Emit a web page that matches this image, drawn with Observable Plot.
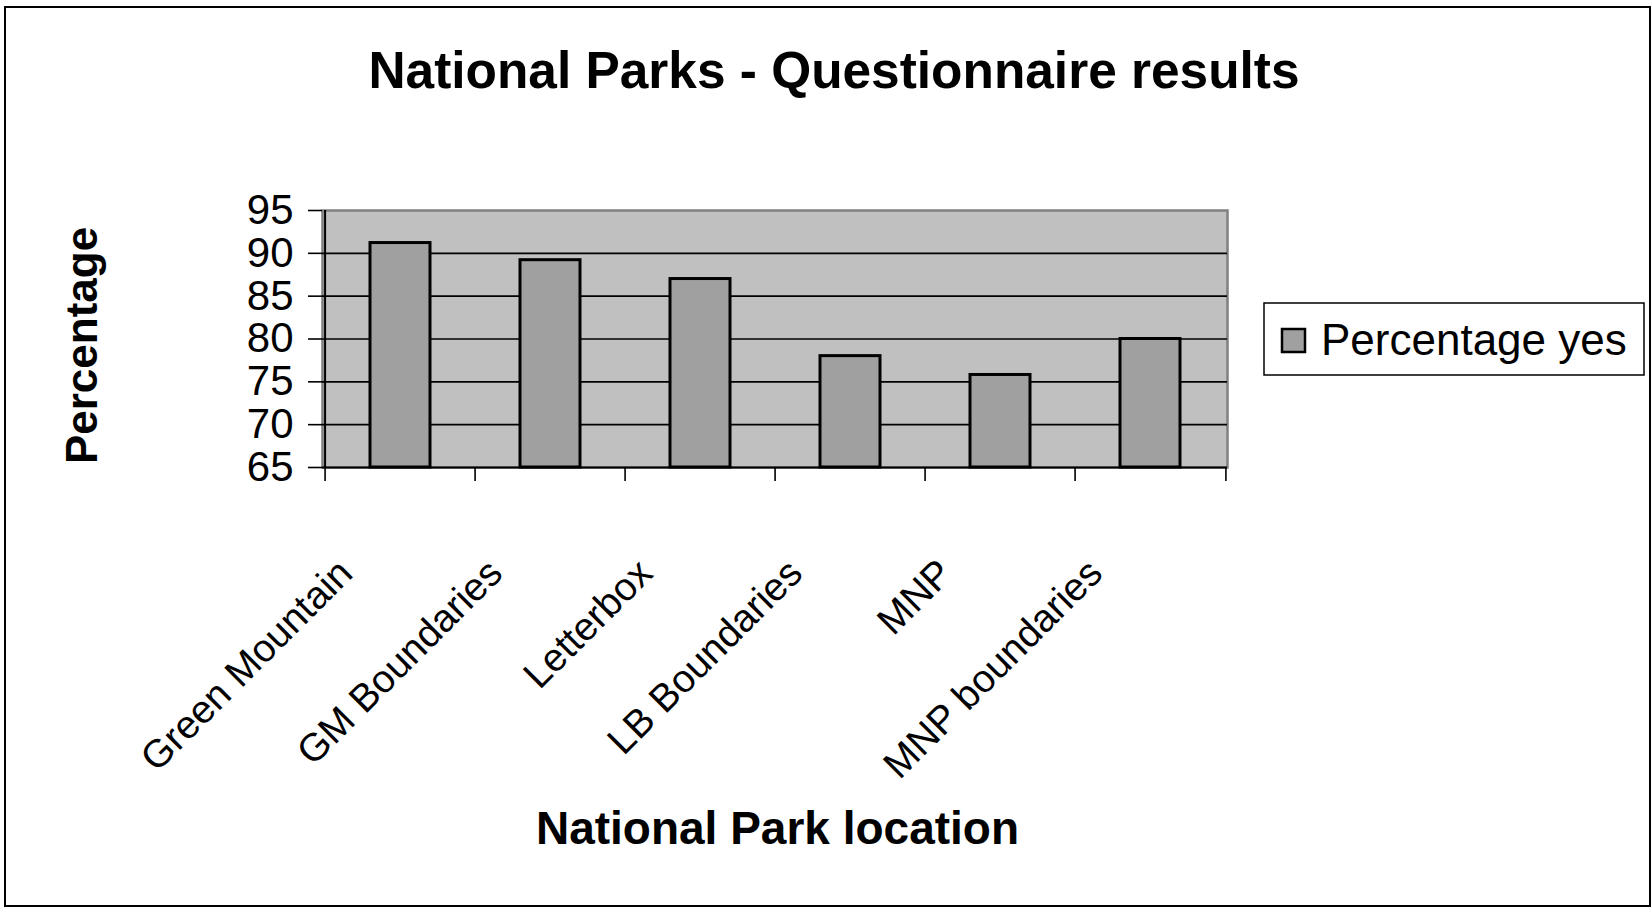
<!DOCTYPE html>
<html><head><meta charset="utf-8">
<script src="https://cdn.jsdelivr.net/npm/d3@7"></script>
<script src="https://cdn.jsdelivr.net/npm/@observablehq/plot@0.6"></script>
<style>
html,body{margin:0;padding:0;background:#fff;}
#chart svg{display:block;}
</style></head><body><div id="chart"></div>
<script>
const categories = ["Green Mountain","GM Boundaries","Letterbox","LB Boundaries","MNP","MNP boundaries"];
const percentageYes = [91.2, 89.2, 87.0, 78.0, 75.8, 80.0];
const yTicks = [65,70,75,80,85,90,95];
const seriesName = "Percentage yes";
const titleText = "National Parks - Questionnaire results";
const xTitle = "National Park location";
const yTitle = "Percentage";

const W=1652, H=908, ML=322, MR=425, MT=210, MB=441;
const step = (W-ML-MR)/categories.length;
const font = "'Liberation Sans', Arial, Helvetica, sans-serif";
const data = categories.map((c,i)=>({cat:c, value: percentageYes[i]}));

const chart = Plot.plot({
  width: W, height: H, marginLeft: ML, marginRight: MR, marginTop: MT, marginBottom: MB,
  style: {fontFamily: font, background: "transparent", overflow: "visible", color: "#000"},
  x: {domain: categories, paddingInner: 0.6, paddingOuter: 0.3, axis: null},
  y: {domain: [65,95], axis: null},
  marks: [
    Plot.frame({fill:"#c0c0c0", stroke:"#808080", strokeWidth:2.5}),
    Plot.ruleY(yTicks.slice(1,-1), {stroke:"#000", strokeWidth:1.6}),
    Plot.barY(data, {x:"cat", y1:65, y2:"value", fill:"#a0a0a0", stroke:"#000", strokeWidth:3}),
    Plot.ruleY([65], {stroke:"#000", strokeWidth:2}),
    Plot.ruleX([categories[0]], {y1:65, y2:95, dx:-step/2, stroke:"#000", strokeWidth:2}),
    Plot.axisY({ticks:yTicks, tickSize:14, tickPadding:15, fontSize:42, tickFormat:d=>String(d), label:null, strokeWidth:1.6}),
    Plot.axisX({ticks:categories, tickSize:14, tickFormat:()=>"", dx:-step/2, label:null, strokeWidth:1.6}),
    Plot.axisX({ticks:[categories[categories.length-1]], tickSize:14, tickFormat:()=>"", dx:step/2, label:null, strokeWidth:1.6}),
    Plot.text(categories, {x:d=>d, text:d=>d, frameAnchor:"bottom", rotate:-45, textAnchor:"end", lineAnchor:"bottom", dx:-46, dy:108, fontSize:39, letterSpacing:"-0.8px", fill:"#000"}),
    Plot.text([titleText], {text:d=>d, frameAnchor:"top", dx:59, dy:-139, fontSize:51.4, fontWeight:"bold", lineAnchor:"middle", fill:"#000"}),
    Plot.text([yTitle], {text:d=>d, frameAnchor:"left", rotate:-90, dx:-240, dy:6.5, fontSize:44, fontWeight:"bold", textAnchor:"middle", lineAnchor:"middle", fill:"#000"}),
    Plot.text([xTitle], {text:d=>d, frameAnchor:"bottom", dx:2.5, dy:362, fontSize:46, fontWeight:"bold", lineAnchor:"middle", fill:"#000"})
  ]
});
document.getElementById("chart").appendChild(chart);

const svg = d3.select(chart);
// outer chart border
svg.append("rect").attr("x",5).attr("y",7).attr("width",1645).attr("height",899)
  .attr("fill","none").attr("stroke","#000").attr("stroke-width",2);
// legend
const lg = svg.append("g");
lg.append("rect").attr("x",1264).attr("y",303).attr("width",380).attr("height",72)
  .attr("fill","#fff").attr("stroke","#000").attr("stroke-width",1.5);
lg.append("rect").attr("x",1282).attr("y",329).attr("width",23).attr("height",23)
  .attr("fill","#a0a0a0").attr("stroke","#000").attr("stroke-width",2.5);
lg.append("text").attr("x",1321).attr("y",340).attr("dy","0.35em").attr("text-anchor","start")
  .attr("font-family",font).attr("font-size",44).attr("fill","#000").text(seriesName);
</script>
</body></html>
